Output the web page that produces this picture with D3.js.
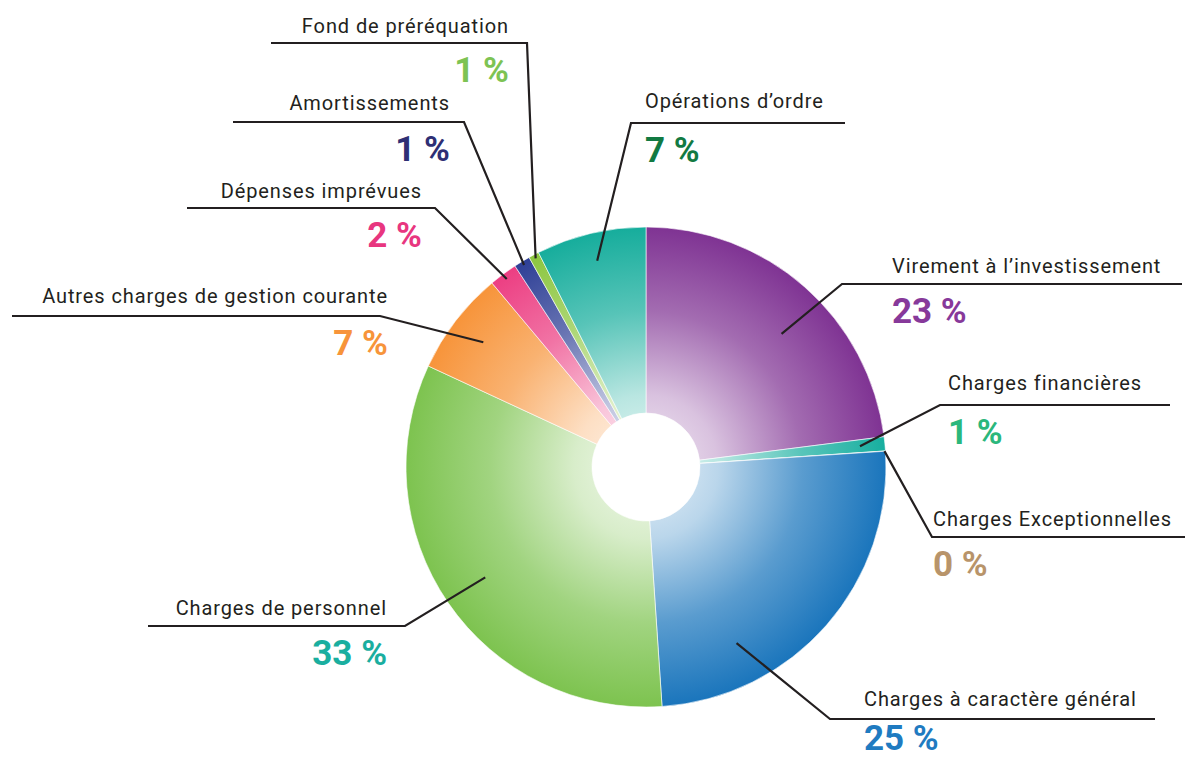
<!DOCTYPE html>
<html>
<head>
<meta charset="utf-8">
<script src="https://cdn.jsdelivr.net/npm/d3@7"></script>
<style>
  body { margin: 0; background: #fff; }
  text { font-family: Roboto, "DejaVu Sans", sans-serif; }
</style>
</head>
<body>
<div id="chart"></div>
<script>
// data, clockwise from 12 o'clock
const categories = [
  "Virement à l’investissement",
  "Charges financières",
  "Charges Exceptionnelles",
  "Charges à caractère général",
  "Charges de personnel",
  "Autres charges de gestion courante",
  "Dépenses imprévues",
  "Amortissements",
  "Fond de préréquation",
  "Opérations d’ordre"
];
const values = [23, 0.95, 0.02, 25, 33, 7, 1.9, 1.1, 0.7, 7.4];
const pctLabels = ["23 %", "1 %", "0 %", "25 %", "33 %", "7 %", "2 %", "1 %", "1 %", "7 %"];
const sliceColors = ["#7f3393", "#17ae9f", "#b8946a", "#1a75bc", "#7dc34f", "#f7943a", "#ec3e82", "#2e3f96", "#8cc63f", "#16ad9c"];
const pctColors = ["#87399a", "#2bb77c", "#b8946a", "#1f7bc1", "#1aae9f", "#f7943a", "#e8367f", "#2e2f74", "#7dc353", "#127a42"];

// label layout: x/y of text baseline, line span, side, where the leader hits the slice
const layout = [
  { x: 892, y: 273, lx1: 842, lx2: 1182, ly: 284, anchor: "start", frac: 0.55, r: 190 },
  { x: 948, y: 390, lx1: 940, lx2: 1170, ly: 405, anchor: "start", frac: 0.5, r: 215 },
  { x: 933, y: 526, lx1: 932, lx2: 1185, ly: 537, anchor: "start", frac: 0.5, r: 239 },
  { x: 864, y: 706, lx1: 830, lx2: 1155, ly: 719, anchor: "start", frac: 0.74, r: 198 },
  { x: 387, y: 615, lx1: 148, lx2: 405, ly: 626, anchor: "end", frac: 0.5, r: 195 },
  { x: 388, y: 303, lx1: 12, lx2: 380, ly: 316, anchor: "end", frac: 0.5, r: 205 },
  { x: 422, y: 198, lx1: 187, lx2: 435, ly: 208, anchor: "end", frac: 0.5, r: 234 },
  { x: 450, y: 110, lx1: 233, lx2: 464, ly: 122, anchor: "end", frac: 0.5, r: 236 },
  { x: 509, y: 33, lx1: 271, lx2: 527, ly: 43, anchor: "end", frac: 0.5, r: 236 },
  { x: 645, y: 108, lx1: 631, lx2: 845, ly: 123, anchor: "start", frac: 0.5, r: 212 }
];

const W = 1185, H = 760;
const cx = 646, cy = 467, outerR = 240, innerR = 54;

const svg = d3.select("#chart").append("svg")
  .attr("width", W)
  .attr("height", H);

// radial gradients, light at the centre, full colour at the rim
const defs = svg.append("defs");
sliceColors.forEach((c, i) => {
  const g = defs.append("radialGradient")
    .attr("id", "grad" + i)
    .attr("gradientUnits", "userSpaceOnUse")
    .attr("cx", 0).attr("cy", 0).attr("r", outerR);
  const mix = d3.interpolateRgb("#ffffff", c);
  g.append("stop").attr("offset", "0%").attr("stop-color", mix(0.1));
  g.append("stop").attr("offset", "30%").attr("stop-color", mix(0.3));
  g.append("stop").attr("offset", "65%").attr("stop-color", mix(0.72));
  g.append("stop").attr("offset", "100%").attr("stop-color", mix(1));
});

const pie = d3.pie().sort(null).value(d => d);
const arcs = pie(values);
const arc = d3.arc().innerRadius(innerR).outerRadius(outerR);

const chart = svg.append("g").attr("transform", `translate(${cx},${cy})`);

chart.selectAll("path.slice")
  .data(arcs)
  .enter()
  .append("path")
  .attr("class", "slice")
  .attr("d", arc)
  .attr("fill", (d, i) => `url(#grad${i})`)
  .attr("stroke", "#fff")
  .attr("stroke-width", 0.6);

// leader lines + labels
arcs.forEach((d, i) => {
  const L = layout[i];
  const a = d.startAngle + (d.endAngle - d.startAngle) * L.frac;
  const px = cx + L.r * Math.sin(a);
  const py = cy - L.r * Math.cos(a);
  const corner = L.anchor === "end" ? L.lx2 : L.lx1;
  const far = L.anchor === "end" ? L.lx1 : L.lx2;

  svg.append("polyline")
    .attr("points", `${px},${py} ${corner},${L.ly} ${far},${L.ly}`)
    .attr("fill", "none")
    .attr("stroke", "#231f20")
    .attr("stroke-width", 2.2);

  svg.append("text")
    .attr("x", L.x)
    .attr("y", L.y)
    .attr("text-anchor", L.anchor)
    .style("font-size", "20px")
    .style("letter-spacing", "0.9px")
    .attr("fill", "#231f20")
    .text(categories[i]);

  svg.append("text")
    .attr("x", L.x)
    .attr("y", Math.min(L.ly + 39, H - 10))
    .attr("text-anchor", L.anchor)
    .style("font-size", "35px")
    .style("font-weight", "bold")
    .attr("fill", pctColors[i])
    .text(pctLabels[i]);
});
</script>
</body>
</html>
